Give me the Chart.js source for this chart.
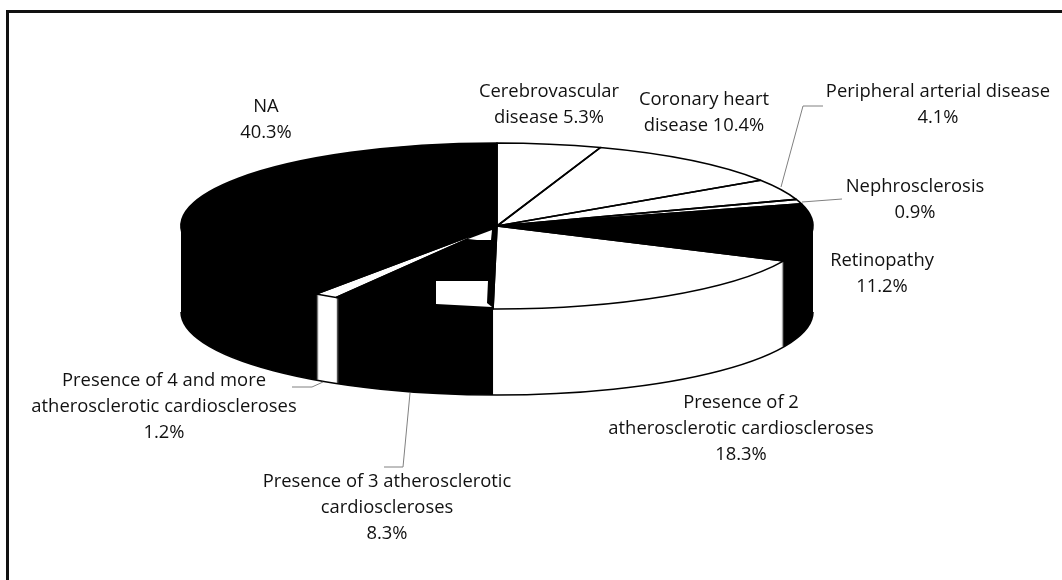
<!DOCTYPE html>
<html>
<head>
<meta charset="utf-8">
<script src="https://cdn.jsdelivr.net/npm/chart.js@4"></script>
<style>
html,body{margin:0;padding:0;background:#fff;overflow:hidden}
#frame{position:absolute;left:6px;top:10px;right:0;bottom:0;border-left:3px solid #111;border-top:3px solid #111;box-sizing:border-box}
#wrap{position:absolute;left:0;top:0;width:1062px;height:580px}
</style>
</head>
<body>
<div id="frame"></div>
<div id="wrap"><canvas id="c" width="1062" height="580"></canvas></div>
<script>
// Data
const categories = ['Cerebrovascular disease','Coronary heart disease','Peripheral arterial disease','Nephrosclerosis','Retinopathy','Presence of 2 atherosclerotic cardioscleroses','Presence of 3 atherosclerotic cardioscleroses','Presence of 4 and more atherosclerotic cardioscleroses','NA'];
const values = [5.3,10.4,4.1,0.9,11.2,18.3,8.3,1.2,40.3];
const sliceColors = ['#fff','#fff','#fff','#fff','#000','#fff','#000','#fff','#000'];
const labelLines = [
  ['Cerebrovascular','disease {v}%'],
  ['Coronary heart','disease {v}%'],
  ['Peripheral arterial disease','{v}%'],
  ['Nephrosclerosis','{v}%'],
  ['Retinopathy','{v}%'],
  ['Presence of 2','atherosclerotic cardioscleroses','{v}%'],
  ['Presence of 3 atherosclerotic','cardioscleroses','{v}%'],
  ['Presence of 4 and more','atherosclerotic cardioscleroses','{v}%'],
  ['NA','{v}%']
];
// Layout (centre x, first-line y of each label)
const labelAnchors = [[549,92],[704,100],[938,92],[915,187],[882,261],[741,403],[387,482],[164,381],[266,107]];
const leaders = [
  [[823,106],[803,106],[781,187]],
  [[842,199],[802,202]],
  [[292,387],[312,387],[323,382]],
  [[410,393],[403,467],[384,467]]
];
const PIE = {cx:497, cy:226, rx:316, ry:83, depth:86};
// Scan artefacts of the source image, as offsets from the pie centre
const patches = [
  [[-61,55],[-9,55],[-10,77],[-5,81],[-61,78]],
  [[-20,14],[-6,14],[-5,4],[-29,13]]
];

const pie3d = {
  id:'pie3d',
  beforeDatasetsDraw(chart){
    const ctx = chart.ctx, arcs = chart.getDatasetMeta(0).data;
    const first = arcs[0].getProps(['x','y','outerRadius']);
    const R = first.outerRadius, X = first.x, Y = first.y;
    const place = dy => {
      ctx.translate(PIE.cx, PIE.cy + dy);
      ctx.scale(PIE.rx/R, PIE.ry/R);
      ctx.translate(-X,-Y);
    };
    // side wall: extrude the slices downward
    for(let d = PIE.depth; d >= 1; d--){
      ctx.save(); place(d); arcs.forEach(a => a.draw(ctx)); ctx.restore();
    }
    // bottom rim
    ctx.save();
    ctx.strokeStyle = '#000'; ctx.lineWidth = 1.5;
    ctx.save(); place(PIE.depth); ctx.beginPath(); ctx.arc(X,Y,R,0,Math.PI); ctx.restore(); ctx.stroke();
    ctx.restore();
    // top face
    ctx.save(); place(0); arcs.forEach(a => a.draw(ctx)); ctx.restore();
    // slice outlines with an even line width
    arcs.forEach(a => {
      const p = a.getProps(['startAngle','endAngle']);
      ctx.save(); place(0);
      ctx.beginPath(); ctx.moveTo(X,Y); ctx.arc(X,Y,R,p.startAngle,p.endAngle); ctx.closePath();
      ctx.restore();
      ctx.strokeStyle = '#000'; ctx.lineWidth = 1.6; ctx.lineJoin='round'; ctx.stroke();
    });
    // artefacts
    ctx.fillStyle = '#fff';
    patches.forEach(poly => {
      ctx.beginPath();
      poly.forEach((q,i) => i ? ctx.lineTo(PIE.cx+q[0],PIE.cy+q[1]) : ctx.moveTo(PIE.cx+q[0],PIE.cy+q[1]));
      ctx.closePath(); ctx.fill();
    });
    // leader lines
    ctx.strokeStyle = '#808080'; ctx.lineWidth = 1;
    leaders.forEach(l => {
      ctx.beginPath();
      l.forEach((q,i) => i ? ctx.lineTo(q[0],q[1]) : ctx.moveTo(q[0],q[1]));
      ctx.stroke();
    });
    // labels
    ctx.fillStyle = '#111';
    ctx.font = '18.4px "Open Sans", sans-serif';
    ctx.textAlign = 'center'; ctx.textBaseline = 'middle';
    labelLines.forEach((lines,i) => {
      lines.forEach((t,j) => ctx.fillText(t.replace('{v}', values[i].toFixed(1)), labelAnchors[i][0], labelAnchors[i][1] + j*25.7));
    });
    return false;
  }
};

new Chart(document.getElementById('c'), {
  type:'pie',
  data:{labels:categories, datasets:[{data:values, backgroundColor:sliceColors, borderWidth:0}]},
  options:{
    responsive:false, animation:false,
    plugins:{legend:{display:false}, tooltip:{enabled:false}}
  },
  plugins:[pie3d]
});
</script>
</body>
</html>
